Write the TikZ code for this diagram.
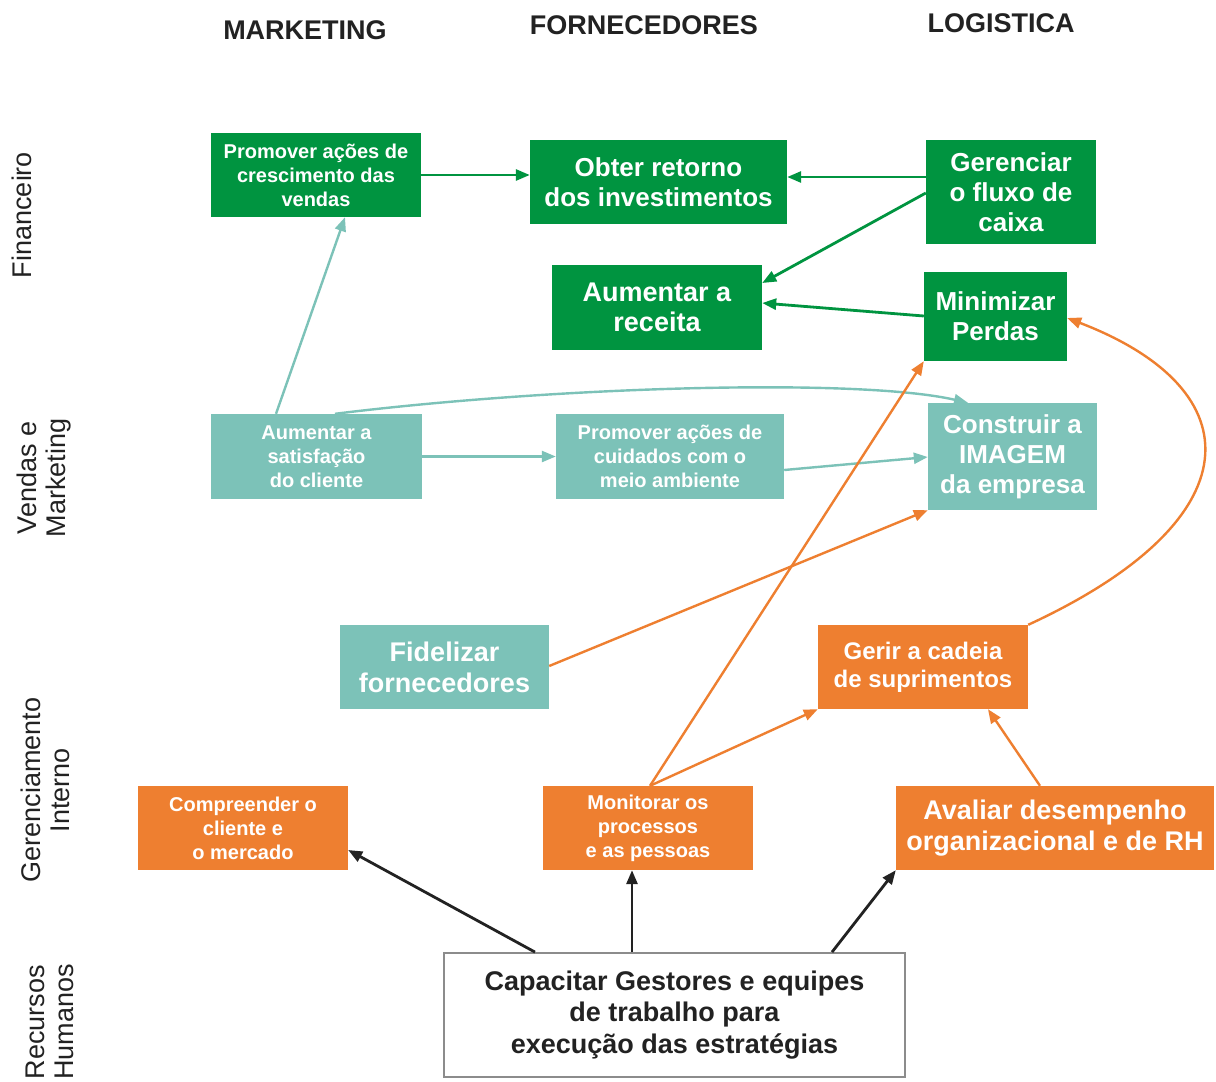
\documentclass[tikz,border=0pt]{standalone}
\usepackage{fontspec}
\setmainfont{Liberation Sans}
\usetikzlibrary{arrows.meta}
\definecolor{dgreen}{HTML}{009440}
\definecolor{teal2}{HTML}{7CC2B8}
\definecolor{orng}{HTML}{EE7F30}
\definecolor{dtext}{HTML}{222222}
\tikzset{
  bx/.style={rectangle, inner sep=0pt, align=center, text=white},
  gbox/.style={bx, fill=dgreen},
  tbox/.style={bx, fill=teal2},
  obox/.style={bx, fill=orng},
  fs/.style={font=\fontsize{20}{24}\selectfont\bfseries},
  fl/.style={font=\fontsize{26}{30}\selectfont\bfseries},
  hdr/.style={font=\fontsize{27}{30}\selectfont\bfseries, text=dtext},
  rowlab/.style={font=\fontsize{27}{29}\selectfont, text=dtext, align=center, rotate=90},
  tip/.style={-{Triangle[length=14pt,width=11pt]}},
  garr/.style={tip, draw=dgreen, line width=2.8pt},
  tarr/.style={tip, draw=teal2, line width=2.4pt},
  oarr/.style={tip, draw=orng, line width=2.4pt},
  karr/.style={tip, draw=dtext, line width=2.8pt},
}
\begin{document}
\begin{tikzpicture}[x=1pt,y=-1pt]
\useasboundingbox[fill=white] (0,0) rectangle (1216,1082);
% headers
\node[hdr] (hm) at (305,30) {MARKETING};
\node[hdr] (hf) at (644,25) {FORNECEDORES};
\node[hdr] (hl) at (1001,23) {LOGISTICA};
% row labels
\node[rowlab] (rf) at (22,215) {Financeiro};
\node[rowlab] (rv) at (44,478) {Vendas e\\Marketing};
\node[rowlab] (rg) at (45,790) {Gerenciamento\\Interno};
\node[rowlab] (rr) at (50,1022) {Recursos\\Humanos};
% financeiro
\node[gbox, fs, minimum width=210pt, minimum height=84pt] (b1) at (316,175) {Promover ações de\\crescimento das\\vendas};
\node[gbox, fl, minimum width=257pt, minimum height=84pt] (b2) at (658.5,182) {Obter retorno\\dos investimentos};
\node[gbox, fl, minimum width=170pt, minimum height=104pt] (b3) at (1011,192) {Gerenciar\\o fluxo de\\caixa};
\node[gbox, fl, font=\fontsize{27}{30}\selectfont\bfseries, minimum width=210pt, minimum height=85pt] (b4) at (657,307.5) {Aumentar a\\receita};
\node[gbox, fl, minimum width=143pt, minimum height=89pt] (b5) at (995.5,316.5) {Minimizar\\Perdas};
% vendas
\node[tbox, fs, minimum width=211pt, minimum height=85pt] (b6) at (316.5,456.5) {Aumentar a\\satisfação\\do cliente};
\node[tbox, fs, minimum width=228pt, minimum height=85pt] (b7) at (670,456.5) {Promover ações de\\cuidados com o\\meio ambiente};
\node[tbox, fl, minimum width=169pt, minimum height=107pt] (b8) at (1012.5,456.5) {Construir a\\IMAGEM\\da empresa};
\node[tbox, font=\fontsize{27}{31}\selectfont\bfseries, minimum width=209pt, minimum height=84pt] (b9) at (444.5,667) {Fidelizar\\fornecedores};
% gerenciamento
\node[obox, font=\fontsize{24}{28}\selectfont\bfseries, minimum width=210pt, minimum height=84pt] (b10) at (923,667) {Gerir a cadeia\\de suprimentos};
\node[obox, fs, minimum width=210pt, minimum height=84pt] (b11) at (243,828) {Compreender o\\cliente e\\o mercado};
\node[obox, fs, minimum width=210pt, minimum height=84pt] (b12) at (648,828) {Monitorar os\\processos\\e as pessoas};
\node[obox, font=\fontsize{27}{31}\selectfont\bfseries, minimum width=318pt, minimum height=84pt] (b13) at (1055,828) {Avaliar desempenho\\organizacional e de RH};
% RH
\node[bx, draw=black!45, line width=1.8pt, fill=white, text=dtext, font=\fontsize{27}{31.5}\selectfont\bfseries, minimum width=461pt, minimum height=124pt] (b14) at (674.5,1015) {Capacitar Gestores e equipes\\de trabalho para\\execução das estratégias};
% green arrows
\draw[garr] (b1.east |- 0,175) -- (b2.west |- 0,175);
\draw[garr] (b3.west |- 0,177) -- (b2.east |- 0,177);
\draw[garr] (b3.west |- 0,193) -- (b4.east |- 0,283);
\draw[garr] (b5.west |- 0,316) -- (b4.east |- 0,303);
% teal arrows
\draw[tarr] (b6.north -| 276,0) -- (b1.south -| 345,0);
\draw[tarr] (b6.north -| 335,0) .. controls (560,386) and (860,378) .. (b8.north -| 968,0);
\draw[tarr] (b6.east) -- (b7.west);
\draw[tarr] (b7.east |- 0,470) -- (b8.west |- 0,457);
% orange arrows
\draw[oarr] (b9.east |- 0,666) -- (b8.south west);
\draw[oarr] (b12.north -| 650,0) -- (b5.south west);
\draw[oarr] (b12.north -| 650,0) -- (b10.south west);
\draw[oarr] (b13.north -| 1040,0) -- (b10.south -| 988,0);
\draw[oarr] (b10.north east) .. controls (1255,520) and (1255,390) .. (b5.east |- 0,318);
% black arrows
\draw[karr] (b14.north -| 535,0) -- (b11.south east |- 0,850);
\draw[karr] (b14.north -| 632,0) -- (b12.south -| 632,0);
\draw[karr] (b14.north -| 832,0) -- (b13.south west);
\end{tikzpicture}
\end{document}
